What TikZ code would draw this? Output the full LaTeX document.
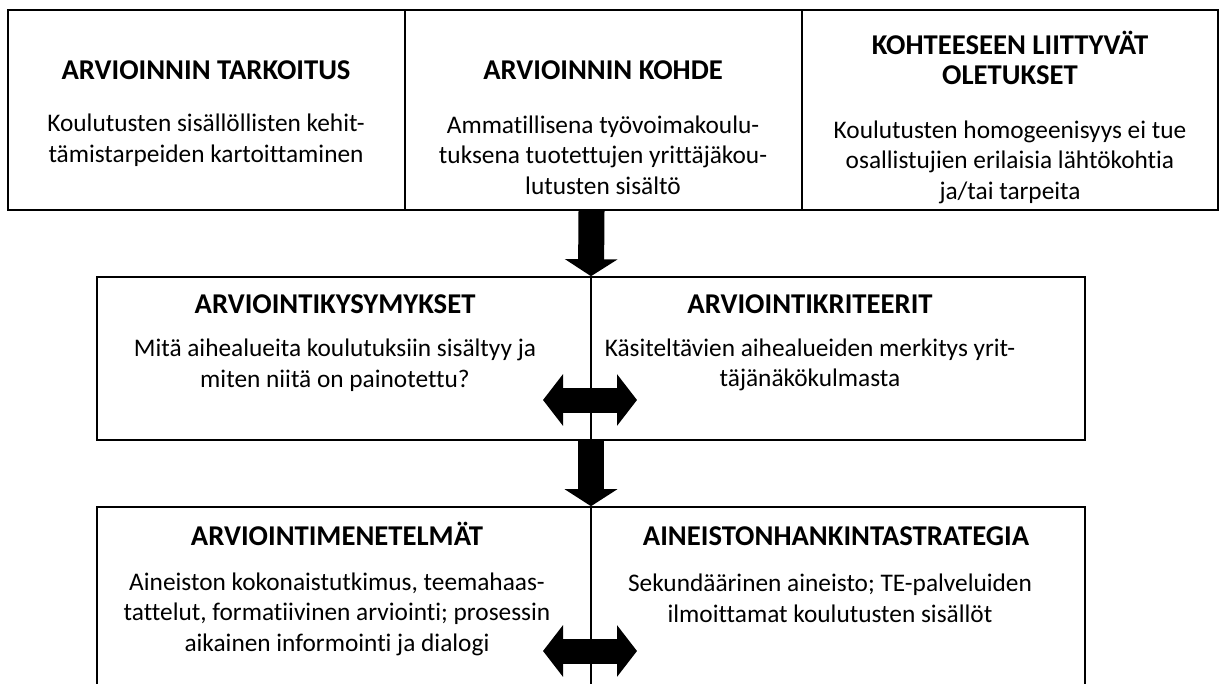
\documentclass[tikz,border=0pt]{standalone}
\usepackage{fontspec}
\setmainfont{Carlito}[Ligatures={NoCommon}]
\usetikzlibrary{arrows.meta}
\tikzset{
  frame/.style={draw=black, line width=1.2pt, inner sep=0pt, fill=none},
  ttl/.style={font=\fontsize{21.5}{22.5}\selectfont\bfseries, align=center, inner sep=0pt},
  bdy/.style={font=\fontsize{19}{22.9}\selectfont, align=center, inner sep=0pt},
  downarrow/.style={line width=19.5pt, -{Triangle[width=39pt 0 0,length=12.75pt 0 0]}},
  twoway/.style={line width=18.75pt, {Triangle[width=38pt 0 0,length=15pt 0 0]}-{Triangle[width=38pt 0 0,length=15pt 0 0]}},
  divider/.style={draw=black, line width=1.2pt}
}
\begin{document}
\begin{tikzpicture}[x=0.75pt,y=-0.75pt]
\useasboundingbox (0,0) rectangle (1223,684);
\clip (0,0) rectangle (1223,684);
% top row
\node[frame, minimum width=297.75pt, minimum height=150pt] (b1) at (206.5,110) {};
\node[frame, minimum width=297.75pt, minimum height=150pt] (b2) at (603.5,110) {};
\node[frame, minimum width=312pt, minimum height=150pt] (b3) at (1010,110) {};
\node[ttl, anchor=base] (t1t) at (206,80) {ARVIOINNIN TARKOITUS};
\node[bdy] (t1b) at (206,140) {Koulutusten sisällöllisten kehit-\\tämistarpeiden kartoittaminen};
\node[ttl, anchor=base] (t2t) at (603,80) {ARVIOINNIN KOHDE};
\node[bdy] (t2b) at (603,155) {Ammatillisena työvoimakoulu-\\tuksena tuotettujen yrittäjäkou-\\lutusten sisältö};
\node[ttl] (t3t) at (1010,58) {KOHTEESEEN LIITTYVÄT\\OLETUKSET};
\node[bdy] (t3b) at (1010,162) {Koulutusten homogeenisyys ei tue\\osallistujien erilaisia lähtökohtia\\ja/tai tarpeita};
% middle row
\node[frame, minimum width=741pt, minimum height=122.25pt] (mid) at (591,358.5) {};
\draw[divider] (mid.north) -- (mid.south);
\node[ttl, anchor=base] (m1t) at (335,313) {ARVIOINTIKYSYMYKSET};
\node[bdy] (m1b) at (335,365) {Mitä aihealueita koulutuksiin sisältyy ja\\miten niitä on painotettu?};
\node[ttl, anchor=base] (m2t) at (810,313) {ARVIOINTIKRITEERIT};
\node[bdy] (m2b) at (810,365) {Käsiteltävien aihealueiden merkitys yrit-\\täjänäkökulmasta};
% bottom row (cut off at the lower edge)
\node[frame, minimum width=741pt, minimum height=150pt] (low) at (591,607) {};
\draw[divider] (low.north) -- (low.south);
\node[ttl, anchor=base] (l1t) at (337,545) {ARVIOINTIMENETELMÄT};
\node[bdy] (l1b) at (337,614) {Aineiston kokonaistutkimus, teemahaas-\\tattelut, formatiivinen arviointi; prosessin\\aikainen informointi ja dialogi};
\node[ttl, anchor=base] (l2t) at (836,545) {AINEISTONHANKINTASTRATEGIA};
\node[bdy] (l2b) at (830,598.5) {Sekundäärinen aineisto; TE-palveluiden\\ilmoittamat koulutusten sisällöt};
% arrows
\coordinate (a1s) at ([xshift=-9pt]b2.south);
\draw[downarrow] (a1s) -- (mid.north);
\draw[downarrow] (mid.south) -- (low.north);
\coordinate (h1l) at (543,400);
\coordinate (h1r) at (637,400);
\draw[twoway] (h1l) -- (h1r);
\coordinate (h2l) at (543,651);
\coordinate (h2r) at (637,651);
\draw[twoway] (h2l) -- (h2r);
\end{tikzpicture}
\end{document}
